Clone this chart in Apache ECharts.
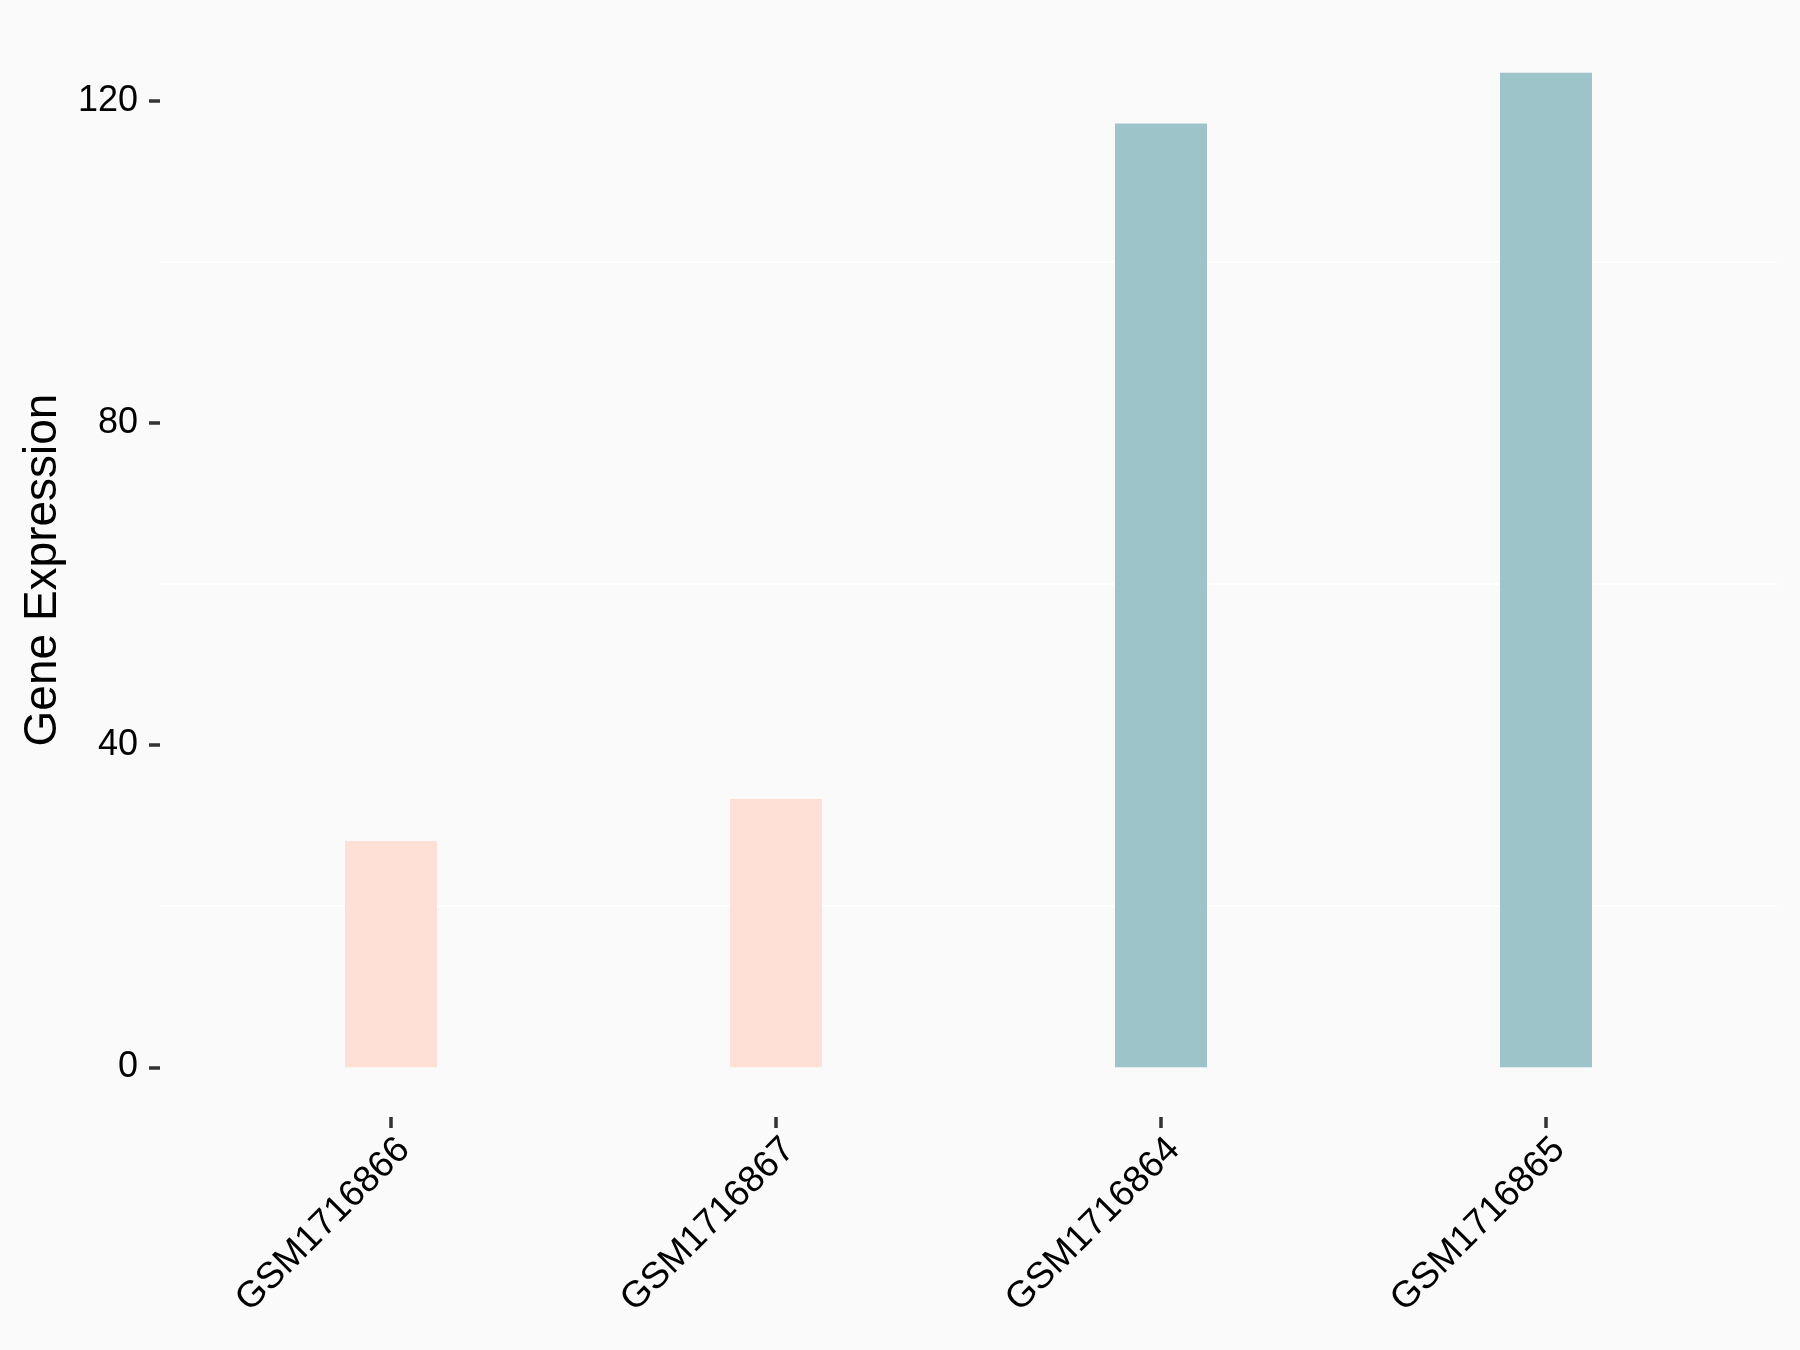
<!DOCTYPE html>
<html>
<head>
<meta charset="utf-8">
<script src="https://cdn.jsdelivr.net/npm/echarts@6/dist/echarts.min.js"></script>
<style>
html,body{margin:0;padding:0;background:#FAFAFA;}
#chart{width:1800px;height:1350px;}
</style>
</head>
<body>
<div id="chart"></div>
<script>
const categories = ['GSM1716866', 'GSM1716867', 'GSM1716864', 'GSM1716865'];
const values = [28.1, 33.3, 117.2, 123.5];
const groups = ['low', 'low', 'high', 'high'];
const yTicks = [0, 40, 80, 120];
const yMinorGrid = [20, 60, 100];

const groupColors = { low: '#FFE0D6', high: '#9DC4C8' };
const vmax = Math.max.apply(null, values);
const yMin = -0.05 * vmax, yMax = vmax * 1.05;
const positions = categories.map((c, i) => i + 1);

const chart = echarts.init(document.getElementById('chart'));
chart.setOption({
  backgroundColor: '#FAFAFA',
  animation: false,
  grid: { left: 160, right: 23, top: 23, bottom: 233, containLabel: false, outerBoundsMode: 'none' },
  xAxis: {
    type: 'value', min: 0.4, max: categories.length + 0.6,
    axisLine: { show: false, onZero: false },
    splitLine: { show: false },
    axisTick: { show: true, customValues: positions, length: 11, lineStyle: { color: '#333333', width: 3.5 } },
    axisLabel: {
      customValues: positions, rotate: 45, align: 'right', verticalAlign: 'top', margin: 14,
      fontFamily: 'Liberation Sans, Arial, sans-serif', fontSize: 37, color: '#000000',
      formatter: v => categories[Math.round(v) - 1] || ''
    }
  },
  yAxis: {
    type: 'value', min: yMin, max: yMax,
    name: 'Gene Expression', nameLocation: 'middle', nameGap: 94,
    nameTextStyle: { fontFamily: 'Liberation Sans, Arial, sans-serif', fontSize: 46, color: '#000000' },
    axisLine: { show: false, onZero: false },
    splitLine: { show: false },
    axisTick: { show: true, customValues: yTicks, length: 11, lineStyle: { color: '#333333', width: 3.5 } },
    axisLabel: {
      customValues: yTicks, margin: 22,
      fontFamily: 'Liberation Sans, Arial, sans-serif', fontSize: 36, color: '#000000'
    }
  },
  series: [{
    type: 'bar',
    barWidth: 92,
    z: 3,
    data: values.map((v, i) => ({ value: [positions[i], v], itemStyle: { color: groupColors[groups[i]] } })),
    markLine: {
      silent: true, symbol: 'none', z: 1, label: { show: false },
      lineStyle: { color: '#FFFFFF', width: 2, type: 'solid' },
      data: yMinorGrid.map(v => ({ yAxis: v }))
    }
  }]
});
</script>
</body>
</html>
